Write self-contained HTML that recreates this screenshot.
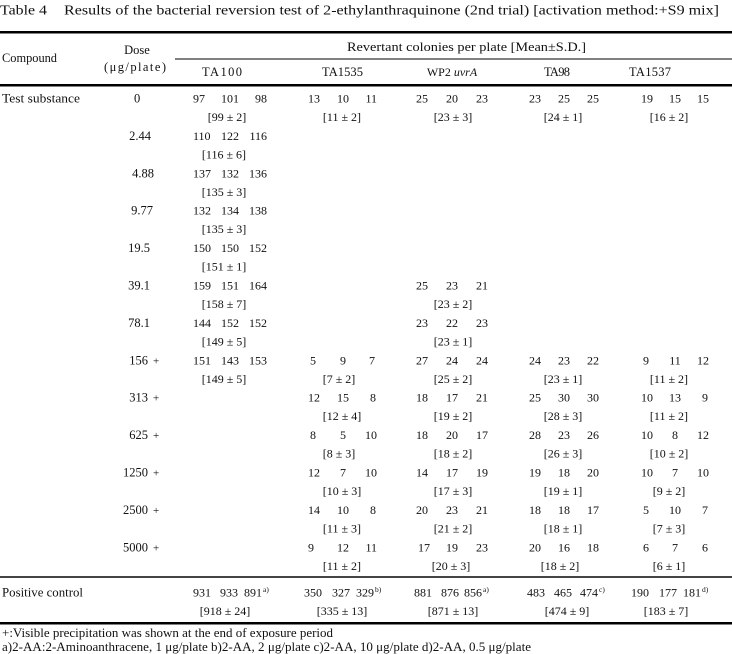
<!DOCTYPE html>
<html>
<head>
<meta charset="utf-8">
<style>
html,body{margin:0;padding:0;background:#fff;}
body{width:732px;height:654px;overflow:hidden;}
svg{display:block;}
text{font-family:"Liberation Serif","Noto Serif CJK SC",serif;font-size:12px;fill:#111;}
.m{text-anchor:middle;}
.e{text-anchor:end;}
.h{font-size:12.5px;}
.t{font-size:13.5px;}
.sup{font-size:7.5px;}
.pl{font-size:11px;}
</style>
</head>
<body>
<svg width="732" height="654" viewBox="0 0 732 654" xmlns="http://www.w3.org/2000/svg">
<!-- Title -->
<text class="t" x="0" y="14.5" textLength="47" lengthAdjust="spacingAndGlyphs">Table 4</text>
<text class="t" x="64" y="14.5" textLength="655" lengthAdjust="spacingAndGlyphs">Results of the bacterial reversion test of 2-ethylanthraquinone (2nd trial) [activation method:+S9 mix]</text>

<!-- Rules -->
<rect x="0" y="31" width="732" height="2.5" fill="#000"/>
<rect x="175" y="58.5" width="557" height="1" fill="#000"/>
<rect x="0" y="84" width="732" height="2.5" fill="#000"/>
<rect x="0" y="576" width="732" height="2" fill="#444"/>
<rect x="0" y="622" width="732" height="2.5" fill="#000"/>

<!-- Header -->
<text class="h" x="2" y="62" textLength="55" lengthAdjust="spacingAndGlyphs">Compound</text>
<text class="h m" x="137" y="54">Dose</text>
<text class="h" x="104" y="71" textLength="62" lengthAdjust="spacing">(μg/plate)</text>
<text class="h" x="347" y="51" textLength="239" lengthAdjust="spacingAndGlyphs">Revertant colonies per plate [Mean±S.D.]</text>
<text class="h" x="202" y="76" textLength="40" lengthAdjust="spacing">TA100</text>
<text class="h" x="322" y="76" textLength="41" lengthAdjust="spacing">TA1535</text>
<text class="m" x="452" y="76">WP2 <tspan font-style="italic">uvrA</tspan></text>
<text class="h" x="544" y="76" textLength="26" lengthAdjust="spacing">TA98</text>
<text class="h" x="629" y="76" textLength="42" lengthAdjust="spacing">TA1537</text>

<!-- Row labels -->
<text class="h" x="2" y="102.5" textLength="78" lengthAdjust="spacingAndGlyphs">Test substance</text>
<text class="h" x="2" y="596.5" textLength="81" lengthAdjust="spacingAndGlyphs">Positive control</text>

<!-- Doses -->
<text class="h" x="134" y="102.5">0</text>
<text class="h e" x="151" y="139.9">2.44</text>
<text class="h e" x="154" y="177.3">4.88</text>
<text class="h e" x="153" y="214.7">9.77</text>
<text class="h e" x="150" y="252.1">19.5</text>
<text class="h e" x="150" y="289.5">39.1</text>
<text class="h e" x="150" y="326.9">78.1</text>
<text class="h e" x="148" y="364.3">156</text><text class="pl" x="153" y="364.3">+</text>
<text class="h e" x="148" y="401.7">313</text><text class="pl" x="153" y="401.7">+</text>
<text class="h e" x="148" y="439.1">625</text><text class="pl" x="153" y="439.1">+</text>
<text class="h e" x="148" y="476.5">1250</text><text class="pl" x="153" y="476.5">+</text>
<text class="h e" x="148" y="513.9">2500</text><text class="pl" x="153" y="513.9">+</text>
<text class="h e" x="148" y="551.3">5000</text><text class="pl" x="153" y="551.3">+</text>

<!-- k0 -->
<text x="193" y="102.5">97</text><text class="m" x="230" y="102.5">101</text><text class="e" x="267" y="102.5">98</text><text class="m" x="227" y="121">[99 ± 2]</text>
<text x="308" y="102.5">13</text><text class="m" x="343" y="102.5">10</text><text class="e" x="377" y="102.5">11</text><text class="m" x="342" y="121">[11 ± 2]</text>
<text x="416" y="102.5">25</text><text class="m" x="452" y="102.5">20</text><text class="e" x="488" y="102.5">23</text><text class="m" x="453" y="121">[23 ± 3]</text>
<text x="529" y="102.5">23</text><text class="m" x="564" y="102.5">25</text><text class="e" x="599" y="102.5">25</text><text class="m" x="563" y="121">[24 ± 1]</text>
<text x="641" y="102.5">19</text><text class="m" x="675" y="102.5">15</text><text class="e" x="709" y="102.5">15</text><text class="m" x="669" y="121">[16 ± 2]</text>

<!-- k1 -->
<text x="193" y="139.9">110</text><text class="m" x="230" y="139.9">122</text><text class="e" x="267" y="139.9">116</text><text class="m" x="224" y="158.4">[116 ± 6]</text>
<!-- k2 -->
<text x="193" y="177.3">137</text><text class="m" x="230" y="177.3">132</text><text class="e" x="267" y="177.3">136</text><text class="m" x="224" y="195.8">[135 ± 3]</text>
<!-- k3 -->
<text x="193" y="214.7">132</text><text class="m" x="230" y="214.7">134</text><text class="e" x="267" y="214.7">138</text><text class="m" x="224" y="233.2">[135 ± 3]</text>
<!-- k4 -->
<text x="193" y="252.1">150</text><text class="m" x="230" y="252.1">150</text><text class="e" x="267" y="252.1">152</text><text class="m" x="224" y="270.6">[151 ± 1]</text>
<!-- k5 -->
<text x="193" y="289.5">159</text><text class="m" x="230" y="289.5">151</text><text class="e" x="267" y="289.5">164</text><text class="m" x="224" y="308">[158 ± 7]</text>
<text x="416" y="289.5">25</text><text class="m" x="452" y="289.5">23</text><text class="e" x="488" y="289.5">21</text><text class="m" x="453" y="308">[23 ± 2]</text>
<!-- k6 -->
<text x="193" y="326.9">144</text><text class="m" x="230" y="326.9">152</text><text class="e" x="267" y="326.9">152</text><text class="m" x="224" y="345.4">[149 ± 5]</text>
<text x="416" y="326.9">23</text><text class="m" x="452" y="326.9">22</text><text class="e" x="488" y="326.9">23</text><text class="m" x="453" y="345.4">[23 ± 1]</text>
<!-- k7 -->
<text x="193" y="364.3">151</text><text class="m" x="230" y="364.3">143</text><text class="e" x="267" y="364.3">153</text><text class="m" x="224" y="382.8">[149 ± 5]</text>
<text x="310" y="364.3">5</text><text class="m" x="343" y="364.3">9</text><text class="e" x="375" y="364.3">7</text><text class="m" x="339" y="382.8">[7 ± 2]</text>
<text x="416" y="364.3">27</text><text class="m" x="452" y="364.3">24</text><text class="e" x="488" y="364.3">24</text><text class="m" x="453" y="382.8">[25 ± 2]</text>
<text x="529" y="364.3">24</text><text class="m" x="564" y="364.3">23</text><text class="e" x="599" y="364.3">22</text><text class="m" x="563" y="382.8">[23 ± 1]</text>
<text x="643" y="364.3">9</text><text class="m" x="675" y="364.3">11</text><text class="e" x="709" y="364.3">12</text><text class="m" x="669" y="382.8">[11 ± 2]</text>
<!-- k8 -->
<text x="308" y="401.7">12</text><text class="m" x="343" y="401.7">15</text><text class="e" x="376" y="401.7">8</text><text class="m" x="342" y="420.2">[12 ± 4]</text>
<text x="416" y="401.7">18</text><text class="m" x="452" y="401.7">17</text><text class="e" x="488" y="401.7">21</text><text class="m" x="453" y="420.2">[19 ± 2]</text>
<text x="529" y="401.7">25</text><text class="m" x="564" y="401.7">30</text><text class="e" x="599" y="401.7">30</text><text class="m" x="563" y="420.2">[28 ± 3]</text>
<text x="641" y="401.7">10</text><text class="m" x="675" y="401.7">13</text><text class="e" x="708" y="401.7">9</text><text class="m" x="669" y="420.2">[11 ± 2]</text>
<!-- k9 -->
<text x="310" y="439.1">8</text><text class="m" x="343" y="439.1">5</text><text class="e" x="377" y="439.1">10</text><text class="m" x="339" y="457.6">[8 ± 3]</text>
<text x="416" y="439.1">18</text><text class="m" x="452" y="439.1">20</text><text class="e" x="488" y="439.1">17</text><text class="m" x="453" y="457.6">[18 ± 2]</text>
<text x="529" y="439.1">28</text><text class="m" x="564" y="439.1">23</text><text class="e" x="599" y="439.1">26</text><text class="m" x="563" y="457.6">[26 ± 3]</text>
<text x="641" y="439.1">10</text><text class="m" x="675" y="439.1">8</text><text class="e" x="709" y="439.1">12</text><text class="m" x="669" y="457.6">[10 ± 2]</text>
<!-- k10 -->
<text x="308" y="476.5">12</text><text class="m" x="343" y="476.5">7</text><text class="e" x="377" y="476.5">10</text><text class="m" x="342" y="495">[10 ± 3]</text>
<text x="416" y="476.5">14</text><text class="m" x="452" y="476.5">17</text><text class="e" x="488" y="476.5">19</text><text class="m" x="453" y="495">[17 ± 3]</text>
<text x="529" y="476.5">19</text><text class="m" x="564" y="476.5">18</text><text class="e" x="599" y="476.5">20</text><text class="m" x="563" y="495">[19 ± 1]</text>
<text x="641" y="476.5">10</text><text class="m" x="675" y="476.5">7</text><text class="e" x="709" y="476.5">10</text><text class="m" x="669" y="495">[9 ± 2]</text>
<!-- k11 -->
<text x="308" y="513.9">14</text><text class="m" x="343" y="513.9">10</text><text class="e" x="376" y="513.9">8</text><text class="m" x="342" y="532.4">[11 ± 3]</text>
<text x="416" y="513.9">20</text><text class="m" x="452" y="513.9">23</text><text class="e" x="488" y="513.9">21</text><text class="m" x="453" y="532.4">[21 ± 2]</text>
<text x="529" y="513.9">18</text><text class="m" x="564" y="513.9">18</text><text class="e" x="599" y="513.9">17</text><text class="m" x="563" y="532.4">[18 ± 1]</text>
<text x="643" y="513.9">5</text><text class="m" x="675" y="513.9">10</text><text class="e" x="708" y="513.9">7</text><text class="m" x="669" y="532.4">[7 ± 3]</text>
<!-- k12 -->
<text x="308" y="551.3">9</text><text class="m" x="343" y="551.3">12</text><text class="e" x="377" y="551.3">11</text><text class="m" x="342" y="569.8">[11 ± 2]</text>
<text x="418" y="551.3">17</text><text class="m" x="452" y="551.3">19</text><text class="e" x="488" y="551.3">23</text><text class="m" x="451" y="569.8">[20 ± 3]</text>
<text x="529" y="551.3">20</text><text class="m" x="564" y="551.3">16</text><text class="e" x="599" y="551.3">18</text><text class="m" x="560" y="569.8">[18 ± 2]</text>
<text x="643" y="551.3">6</text><text class="m" x="675" y="551.3">7</text><text class="e" x="708" y="551.3">6</text><text class="m" x="669" y="569.8">[6 ± 1]</text>

<!-- Positive control -->
<text x="193" y="596.5">931</text><text class="m" x="229" y="596.5">933</text><text class="e" x="262" y="596.5">891</text><text class="sup" x="263" y="592">a)</text><text class="m" x="225" y="615">[918 ± 24]</text>
<text x="304" y="596.5">350</text><text class="m" x="341" y="596.5">327</text><text class="e" x="374" y="596.5">329</text><text class="sup" x="375" y="592">b)</text><text class="m" x="342" y="615">[335 ± 13]</text>
<text x="414" y="596.5">881</text><text class="m" x="450" y="596.5">876</text><text class="e" x="482" y="596.5">856</text><text class="sup" x="483" y="592">a)</text><text class="m" x="453" y="615">[871 ± 13]</text>
<text x="527" y="596.5">483</text><text class="m" x="563" y="596.5">465</text><text class="e" x="598" y="596.5">474</text><text class="sup" x="599" y="592">c)</text><text class="m" x="567" y="615">[474 ± 9]</text>
<text x="631" y="596.5">190</text><text class="m" x="668" y="596.5">177</text><text class="e" x="701" y="596.5">181</text><text class="sup" x="702" y="592">d)</text><text class="m" x="666" y="615">[183 ± 7]</text>

<!-- Footnotes -->
<text class="h" x="2" y="637" textLength="331" lengthAdjust="spacingAndGlyphs">+:Visible precipitation was shown at the end of exposure period</text>
<text class="h" x="2" y="651" textLength="529" lengthAdjust="spacingAndGlyphs">a)2-AA:2-Aminoanthracene, 1 μg/plate  b)2-AA, 2 μg/plate  c)2-AA, 10 μg/plate  d)2-AA, 0.5 μg/plate</text>
</svg>
</body>
</html>
